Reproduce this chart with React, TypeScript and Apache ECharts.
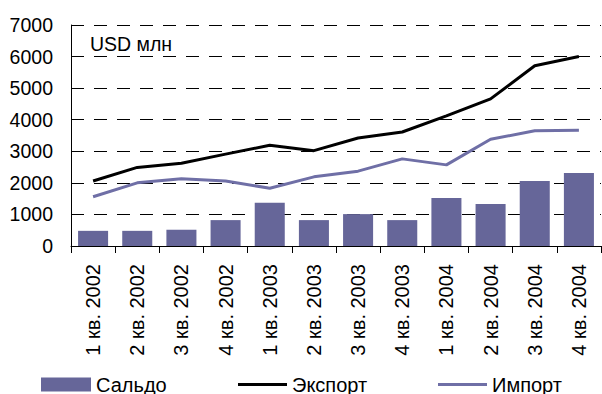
import React, { useEffect, useRef } from "react";
import * as echarts from "echarts";

const categories = [
  "1 кв. 2002", "2 кв. 2002", "3 кв. 2002", "4 кв. 2002",
  "1 кв. 2003", "2 кв. 2003", "3 кв. 2003", "4 кв. 2003",
  "1 кв. 2004", "2 кв. 2004", "3 кв. 2004", "4 кв. 2004",
];
const saldo = [480, 480, 515, 820, 1370, 820, 1010, 820, 1520, 1330, 2060, 2310];
const exportVals = [2060, 2490, 2620, 2910, 3190, 3020, 3420, 3610, 4120, 4660, 5710, 6000];
const importVals = [1560, 2000, 2130, 2060, 1830, 2190, 2370, 2760, 2570, 3380, 3650, 3670];

const FONT = "'Liberation Sans', Arial, sans-serif";
const BAR = "#666699";
const IMP = "#6f6fa6";

export default function App() {
  const ref = useRef<HTMLDivElement>(null);
  useEffect(() => {
    document.body.style.margin = "0";
    const chart = echarts.init(ref.current!, null, { renderer: "svg" });
    const legendText = { fontFamily: FONT, fontSize: 20, color: "#000" };
    chart.setOption({
      animation: false,
      backgroundColor: "#fff",
      grid: { left: 71, right: 1, top: 25, bottom: 148, containLabel: false },
      graphic: [
        {
          type: "text",
          left: 90,
          top: 34,
          style: { text: "USD млн", fontFamily: FONT, fontSize: 19.5, fill: "#000" },
        },
      ],
      legend: [
        {
          data: [{ name: "Сальдо", icon: "rect" }],
          left: 41,
          top: 374.5,
          itemWidth: 50,
          itemHeight: 14,
          textStyle: { ...legendText, padding: [0, 0, 5, 0] },
          padding: 0,
        },
        {
          data: [{ name: "Экспорт", icon: "rect" }],
          left: 238,
          top: 374.5,
          itemWidth: 49,
          itemHeight: 3,
          textStyle: legendText,
          padding: 0,
        },
        {
          data: [{ name: "Импорт", icon: "rect" }],
          left: 438,
          top: 374.5,
          itemWidth: 49,
          itemHeight: 3,
          textStyle: legendText,
          padding: 0,
        },
      ],
      xAxis: {
        type: "category",
        data: categories,
        boundaryGap: true,
        axisLine: { lineStyle: { color: "#000", width: 1 } },
        axisTick: { show: true, length: 7, lineStyle: { color: "#000" } },
        axisLabel: {
          rotate: 90,
          margin: 18,
          fontFamily: FONT,
          fontSize: 20,
          color: "#000",
          interval: 0,
        },
      },
      yAxis: {
        type: "value",
        min: 0,
        max: 7000,
        interval: 1000,
        axisLine: { show: true, lineStyle: { color: "#000", width: 1 } },
        axisTick: { show: false },
        axisLabel: {
          margin: 18,
          fontFamily: FONT,
          fontSize: 19.5,
          color: "#000",
          formatter: (v: number) => String(v),
        },
        splitLine: {
          show: true,
          lineStyle: { color: "#000", type: [13, 10], width: 1 },
        },
      },
      series: [
        {
          name: "Сальдо",
          type: "bar",
          data: saldo,
          barCategoryGap: "32%",
          itemStyle: { color: BAR },
        },
        {
          name: "Экспорт",
          type: "line",
          data: exportVals,
          symbol: "none",
          lineStyle: { color: "#000", width: 3 },
          itemStyle: { color: "#000" },
        },
        {
          name: "Импорт",
          type: "line",
          data: importVals,
          symbol: "none",
          lineStyle: { color: IMP, width: 3 },
          itemStyle: { color: IMP },
        },
      ],
    });
    return () => chart.dispose();
  }, []);
  return <div ref={ref} style={{ width: 602, height: 394 }} />;
}
